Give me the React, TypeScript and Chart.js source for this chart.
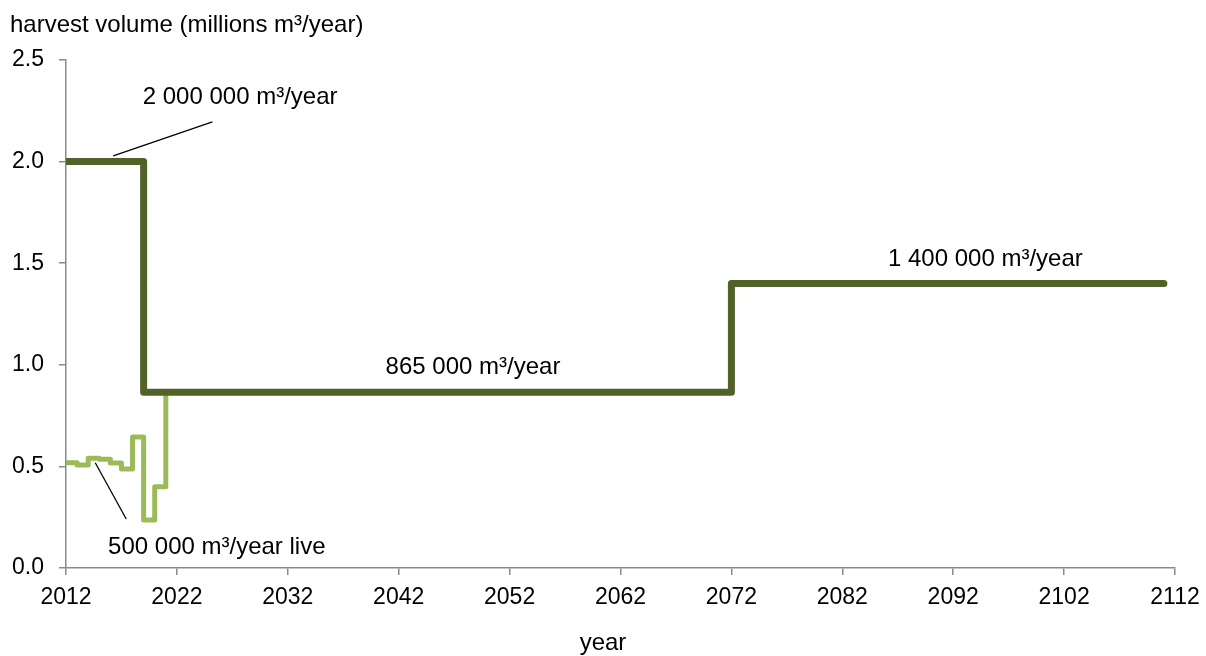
import React, { useEffect, useRef } from "react";
import { Chart, registerables } from "chart.js";

Chart.register(...registerables);

// Planned harvest (dark) – step values, each holds until the next year listed
const plannedYears = [2012, 2019, 2072, 2111];
const plannedValues = [2.0, 0.865, 1.4, 1.4];

// Actual / live harvest (light)
const liveYears = [2012, 2013, 2014, 2015, 2016, 2017, 2018, 2019, 2020, 2021];
const liveValues = [0.518, 0.507, 0.54, 0.535, 0.517, 0.487, 0.645, 0.236, 0.4, 0.865];

const yTicks = [0, 0.5, 1.0, 1.5, 2.0, 2.5];
const xTickStep = 10;

// Annotations (data coordinates)
const labelTexts = ["2 000 000 m³/year", "865 000 m³/year", "1 400 000 m³/year", "500 000 m³/year live"];
const labelYears = [2027.7, 2048.7, 2094.9, 2025.6];
const labelValues = [2.318, 0.989, 1.521, 0.103];

const leaderFromYears = [2025.2, 2017.43];
const leaderFromValues = [2.195, 0.241];
const leaderToYears = [2016.26, 2014.64];
const leaderToValues = [2.028, 0.518];

const DARK = "#4F6228";
const LIGHT = "#9BBB59";
const AXIS = "#8A8A8A";
const FONT = "'Liberation Sans', Arial, sans-serif";

export default function App() {
  const canvasRef = useRef<HTMLCanvasElement | null>(null);

  useEffect(() => {
    const canvas = canvasRef.current;
    if (!canvas) return;

    const annotations = {
      id: "annotations",
      afterDraw(chart: any) {
        const { ctx, scales } = chart;
        const xs = scales.x;
        const ys = scales.y;
        ctx.save();
        // leader lines
        ctx.strokeStyle = "#000";
        ctx.lineWidth = 1.3;
        for (let i = 0; i < leaderFromYears.length; i++) {
          ctx.beginPath();
          ctx.moveTo(xs.getPixelForValue(leaderFromYears[i]), ys.getPixelForValue(leaderFromValues[i]));
          ctx.lineTo(xs.getPixelForValue(leaderToYears[i]), ys.getPixelForValue(leaderToValues[i]));
          ctx.stroke();
        }
        // labels
        ctx.fillStyle = "#000";
        ctx.font = `24px ${FONT}`;
        ctx.textAlign = "center";
        ctx.textBaseline = "middle";
        for (let i = 0; i < labelTexts.length; i++) {
          ctx.fillText(labelTexts[i], xs.getPixelForValue(labelYears[i]), ys.getPixelForValue(labelValues[i]));
        }
        // axis titles
        ctx.textAlign = "left";
        ctx.fillText("harvest volume (millions m³/year)", 10, 25);
        ctx.textAlign = "center";
        ctx.fillText("year", chart.width / 2, 643);
        ctx.restore();
      },
    };

    const chart = new Chart(canvas, {
      type: "line",
      data: {
        datasets: [
          {
            label: "planned",
            data: plannedYears.map((x, i) => ({ x, y: plannedValues[i] })),
            borderColor: DARK,
            borderWidth: 7,
            stepped: true,
            pointRadius: 0,
            borderCapStyle: "round",
            borderJoinStyle: "round",
            fill: false,
          },
          {
            label: "live",
            data: liveYears.map((x, i) => ({ x, y: liveValues[i] })),
            borderColor: LIGHT,
            borderWidth: 5,
            stepped: true,
            pointRadius: 0,
            borderCapStyle: "round",
            borderJoinStyle: "round",
            fill: false,
          },
        ],
      },
      options: {
        animation: false,
        responsive: true,
        maintainAspectRatio: false,
        layout: { padding: { top: 60, right: 31, left: 0, bottom: 0 } },
        plugins: {
          legend: { display: false },
          title: { display: false },
          tooltip: { enabled: false },
        },
        scales: {
          x: {
            type: "linear",
            min: 2012,
            max: 2112,
            afterFit: (s: any) => {
              s.height = 88;
              s.paddingLeft = 0;
              s.paddingRight = 0;
            },
            ticks: {
              stepSize: xTickStep,
              color: "#000",
              font: { family: FONT, size: 23 },
              padding: 9,
              maxRotation: 0,
              callback: (v: any) => String(v),
            },
            grid: { drawOnChartArea: false, drawTicks: true, tickLength: 7, color: AXIS, lineWidth: 1.5 },
            border: { display: true, color: AXIS, width: 1.5 },
          },
          y: {
            type: "linear",
            min: 0,
            max: 2.5,
            afterFit: (s: any) => {
              s.width = 66;
              s.paddingTop = 0;
              s.paddingBottom = 0;
            },
            afterBuildTicks: (s: any) => {
              s.ticks = yTicks.map((v) => ({ value: v }));
            },
            ticks: {
              color: "#000",
              font: { family: FONT, size: 23 },
              padding: 15,
              callback: (v: any) => Number(v).toFixed(1),
            },
            grid: { drawOnChartArea: false, drawTicks: true, tickLength: 7, color: AXIS, lineWidth: 1.5 },
            border: { display: true, color: AXIS, width: 1.5 },
          },
        },
      },
      plugins: [annotations],
    });

    return () => chart.destroy();
  }, []);

  return (
    <div style={{ position: "fixed", left: 0, top: 0, width: 1206, height: 656, background: "#fff" }}>
      <canvas ref={canvasRef} />
    </div>
  );
}
